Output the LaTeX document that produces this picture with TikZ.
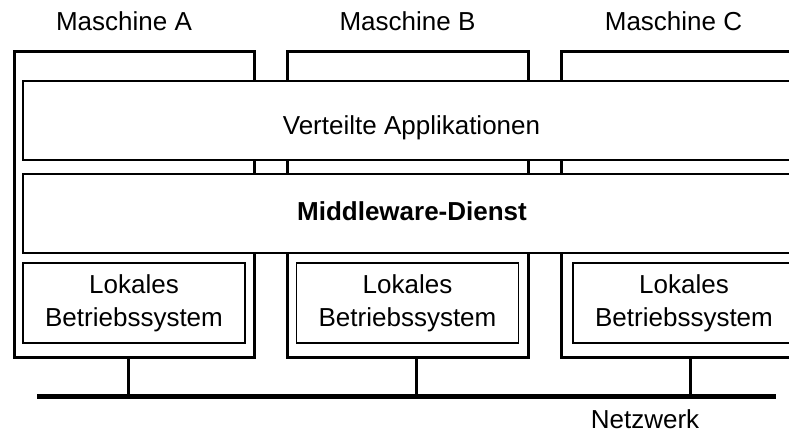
\documentclass[tikz,border=0pt]{standalone}
\usepackage{fontspec}
\setmainfont{Liberation Sans}
\begin{document}
\begin{tikzpicture}[x=1pt,y=-1pt,
  machine/.style={draw, rectangle, inner sep=0pt, line width=3pt},
  band/.style={draw, rectangle, inner sep=0pt, fill=white, line width=2pt},
  osbox/.style={draw, rectangle, inner sep=0pt, fill=white, line width=1.8pt,
                align=center, font=\fontsize{26}{33}\selectfont},
  lbl/.style={anchor=base, inner sep=0pt, font=\fontsize{26}{31}\selectfont},
  link/.style={line width=3.5pt},
  net/.style={line width=5pt}]
\useasboundingbox (0,0) rectangle (789,433);
\clip (0,0) rectangle (789,433);

% the three machines
\node[machine, minimum width=240pt, minimum height=305.5pt] (mA) at (134,204.25) {};
\node[machine, minimum width=241pt, minimum height=305.5pt] (mB) at (407.5,204.25) {};
\node[machine, minimum width=241pt, minimum height=305.5pt] (mC) at (681.5,204.25) {};

\node[lbl] (tA) at (124,31) {Maschine A};
\node[lbl] (tB) at (407.5,31) {Maschine B};
\node[lbl] (tC) at (673.5,31) {Maschine C};

% layers spanning all machines
\node[band, minimum width=774pt, minimum height=79pt] (apps) at (410,120.5) {};
\node[band, minimum width=774pt, minimum height=79pt] (mw) at (410,213.5) {};
\node[lbl] (tapps) at (411.5,134) {Verteilte Applikationen};
\node[lbl, font=\fontsize{26}{31}\selectfont\bfseries] (tmw) at (412,220) {Middleware-Dienst};

% local operating systems
\node[osbox, minimum width=222pt, minimum height=80pt] (osA) at (134,303) {Lokales\\Betriebssystem};
\node[osbox, minimum width=222pt, minimum height=80pt] (osB) at (407.5,303) {Lokales\\Betriebssystem};
\node[osbox, minimum width=222pt, minimum height=80pt] (osC) at (684,303) {Lokales\\Betriebssystem};

% network
\coordinate (netL) at (37,396);
\coordinate (netR) at (776,396);
\draw[net] (netL) -- (netR);
\coordinate (tapA) at (128.7,396);
\coordinate (tapB) at (416.3,396);
\coordinate (tapC) at (690.7,396);
\draw[link] (tapA |- mA.south) -- (tapA);
\draw[link] (tapB |- mB.south) -- (tapB);
\draw[link] (tapC |- mC.south) -- (tapC);
\node[lbl] (tnet) at (645,428) {Netzwerk};
\end{tikzpicture}
\end{document}
